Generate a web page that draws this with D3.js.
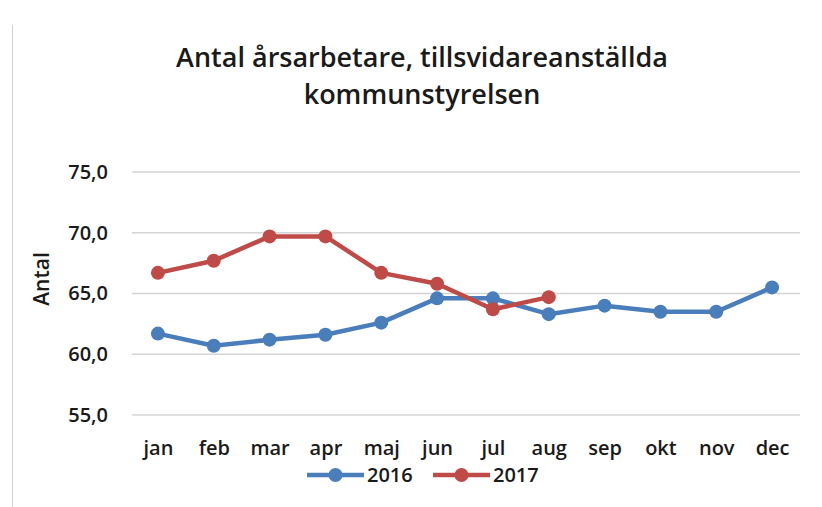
<!DOCTYPE html>
<html>
<head>
<meta charset="utf-8">
<script src="https://cdn.jsdelivr.net/npm/d3@7"></script>
<style>
  body { margin: 0; background: #fff; }
  text { font-family: "Open Sans", sans-serif; fill: #1a1a1a; }
</style>
</head>
<body>
<div id="chart"></div>
<script>
const months = ['jan', 'feb', 'mar', 'apr', 'maj', 'jun', 'jul', 'aug', 'sep', 'okt', 'nov', 'dec'];
const values2016 = [61.7, 60.7, 61.2, 61.6, 62.6, 64.6, 64.6, 63.3, 64.0, 63.5, 63.5, 65.5];
const values2017 = [66.7, 67.7, 69.7, 69.7, 66.7, 65.8, 63.7, 64.7];
const yTicks = [55, 60, 65, 70, 75];
const seriesNames = ['2016', '2017'];
const colors = ['#4a7ebb', '#be4b48'];

const series = [values2016, values2017].map((vals, i) => ({
    name: seriesNames[i],
    color: colors[i],
    points: vals.map((v, j) => ({ month: months[j], value: v }))
}));

const width = 822, height = 507;
const margin = { top: 172, right: 22, bottom: 92, left: 130 };

const svg = d3.select("#chart")
    .append("svg")
    .attr("width", width)
    .attr("height", height);

// faint frame edge on the left
svg.append("line")
    .attr("x1", 12.5).attr("x2", 12.5)
    .attr("y1", 25).attr("y2", height)
    .attr("stroke", "#d0d0d0");

const x = d3.scalePoint()
    .domain(months)
    .range([margin.left, width - margin.right])
    .padding(0.5);

const y = d3.scaleLinear()
    .domain([55, 75])
    .range([height - margin.bottom, margin.top]);

// grid
svg.append("g")
    .selectAll("line")
    .data(yTicks)
    .join("line")
    .attr("x1", margin.left + 2)
    .attr("x2", width - margin.right)
    .attr("y1", d => y(d))
    .attr("y2", d => y(d))
    .attr("stroke", "#d4d4d4")
    .attr("stroke-width", 1.5);

const yAxis = d3.axisLeft(y)
    .tickValues(yTicks)
    .tickSize(0)
    .tickPadding(22)
    .tickFormat(d => d3.format(".1f")(d).replace(".", ","));

svg.append("g")
    .attr("transform", `translate(${margin.left},0)`)
    .call(yAxis)
    .call(g => g.select(".domain").remove())
    .selectAll("text")
    .attr("font-size", 20)
    .attr("font-weight", 600)
    .attr("font-family", "'Open Sans', sans-serif")
    .attr("fill", "#1a1a1a");

const xAxis = d3.axisBottom(x).tickSize(0).tickPadding(10);

svg.append("g")
    .attr("transform", `translate(0,${height - margin.bottom + 16})`)
    .call(xAxis)
    .call(g => g.select(".domain").remove())
    .selectAll("text")
    .attr("font-size", 20)
    .attr("font-weight", 600)
    .attr("font-family", "'Open Sans', sans-serif")
    .attr("fill", "#1a1a1a");

// axis title
svg.append("text")
    .attr("transform", `translate(49,279) rotate(-90)`)
    .attr("text-anchor", "middle")
    .attr("font-size", 21)
    .attr("font-weight", 600)
    .text("Antal");

// chart title
svg.append("text")
    .attr("x", 422)
    .attr("y", 67)
    .attr("text-anchor", "middle")
    .attr("font-size", 27)
    .attr("font-weight", 600)
    .text("Antal årsarbetare, tillsvidareanställda");

svg.append("text")
    .attr("x", 422)
    .attr("y", 104)
    .attr("text-anchor", "middle")
    .attr("font-size", 27)
    .attr("font-weight", 600)
    .text("kommunstyrelsen");

const line = d3.line()
    .x(d => x(d.month))
    .y(d => y(d.value));

series.forEach(s => {
    svg.append("path")
        .datum(s.points)
        .attr("fill", "none")
        .attr("stroke", s.color)
        .attr("stroke-width", 4.5)
        .attr("stroke-linejoin", "round")
        .attr("d", line);

    svg.append("g")
        .selectAll("circle")
        .data(s.points)
        .join("circle")
        .attr("cx", d => x(d.month))
        .attr("cy", d => y(d.value))
        .attr("r", 7)
        .attr("fill", s.color);
});

// legend
const legend = svg.append("g").attr("transform", "translate(307,475)");
const legendItems = legend.selectAll("g")
    .data(series)
    .join("g")
    .attr("transform", (d, i) => `translate(${i * 126},0)`);

legendItems.append("line")
    .attr("x1", 0).attr("x2", 57)
    .attr("stroke", d => d.color)
    .attr("stroke-width", 4.5);

legendItems.append("circle")
    .attr("cx", 28.5)
    .attr("r", 7)
    .attr("fill", d => d.color);

legendItems.append("text")
    .attr("x", 60)
    .attr("dy", "0.35em")
    .attr("font-size", 20)
    .attr("font-weight", 600)
    .text(d => d.name);
</script>
</body>
</html>
